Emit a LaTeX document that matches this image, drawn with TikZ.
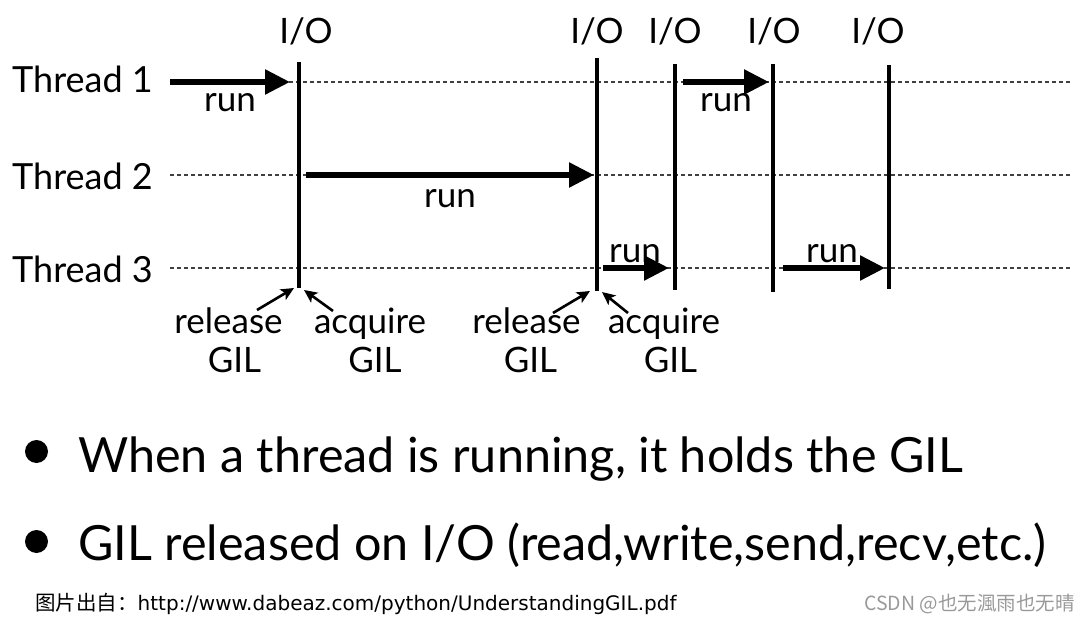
\documentclass[tikz,border=0pt]{standalone}
\usepackage{fontspec}
\setmainfont{Lato}
\newfontfamily\cjk{Noto Sans CJK SC}
\newfontfamily\dvs{DejaVu Sans}
\usetikzlibrary{arrows.meta}

\tikzset{
  txt/.style={inner sep=0pt,anchor=base,font=\fontsize{35}{40}\selectfont},
  thr/.style={txt,anchor=base west,font=\fontsize{36}{40}\selectfont},
  bul/.style={txt,anchor=base west,font=\fontsize{48.5}{52}\selectfont},
  foot/.style={inner sep=0pt,anchor=base west},
  lane/.style={line width=1.2pt,black!75,dash pattern=on 4pt off 3pt},
  io/.style={line width=4pt},
  run/.style={line width=5.5pt,-{Triangle[length=25pt,width=24pt]}},
  gil/.style={line width=2.6pt,-{Stealth[length=13pt,width=12pt,inset=3pt]}}
}

\begin{document}
\begin{tikzpicture}[x=1pt,y=-1pt]
\useasboundingbox (0,0) rectangle (1089,620);
\node[thr] (t1) at (12,93) {Thread 1};
\node[thr] (t2) at (12,190) {Thread 2};
\node[thr] (t3) at (12,283) {Thread 3};
\foreach \i/\y in {1/82,2/175,3/268} {
  \coordinate (l\i) at (170,\y); \coordinate (r\i) at (1072,\y);
  \draw[lane] (l\i) -- (r\i);
}
\foreach \i/\x/\ya/\yb/\lx in {1/299/62/288/306,2/597/58/291/597,3/675/64/290/675,4/773/64/292/774,5/889/65/289/878} {
  \coordinate (up\i) at (\x,\ya); \coordinate (dn\i) at (\x,\yb);
  \draw[io] (up\i) -- (dn\i);
  \node[txt] (io\i) at (\lx,44) {I/O};
}
\foreach \i/\xa/\xb/\y/\lx/\ly in {1/170/290/82/230/112,2/306/594/175/450/208,3/683/769/82/726/112,4/603/669/268/635/262,5/783/885/268/832/262} {
  \node[txt] (run\i) at (\lx,\ly) {run};
  \coordinate (s\i) at (\xa,\y); \coordinate (e\i) at (\xb,\y);
  \draw[run] (s\i) -- (e\i);
}
%% release / acquire
\node[txt] (rel1) at (228.5,333) {release};
\node[txt] (rg1) at (234.5,372) {GIL};
\node[txt] (acq1) at (370,333) {acquire};
\node[txt] (ag1) at (375,372) {GIL};
\node[txt] (rel2) at (526.5,333) {release};
\node[txt] (rg2) at (530.5,372) {GIL};
\node[txt] (acq2) at (664,333) {acquire};
\node[txt] (ag2) at (670.5,372) {GIL};
\coordinate (ra1) at (257,310); \coordinate (rb1) at (294,288);
\coordinate (aa1) at (333,311); \coordinate (ab1) at (304,290);
\coordinate (ra2) at (553,313); \coordinate (rb2) at (590,291);
\coordinate (aa2) at (628,313); \coordinate (ab2) at (602,292);
\draw[gil] (ra1) -- (rb1);
\draw[gil] (aa1) -- (ab1);
\draw[gil] (ra2) -- (rb2);
\draw[gil] (aa2) -- (ab2);
%% bullets
\fill (36.5,451.5) circle (11.5);
\fill (36.5,541.5) circle (11.5);
\node[bul] (w1) at (78,472) {When a thread is running, it holds the GIL};
\node[bul] (w2) at (78,560) {GIL released on I/O (read,write,send,recv,etc.)};
\node[foot] (src) at (35,610) {{\cjk\fontsize{20.5}{22}\selectfont 图片出自：}{\dvs\fontsize{20}{22}\selectfont http://www.dabeaz.com/python/UnderstandingGIL.pdf}};
\node[foot,anchor=base east,text=black!40,font=\cjk\fontsize{19.5}{22}\selectfont] (wm) at (1075,610) {CSDN @也无渢雨也无晴};
\end{tikzpicture}
\end{document}
